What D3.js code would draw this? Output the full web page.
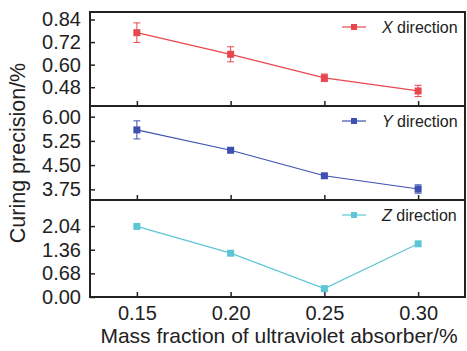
<!DOCTYPE html>
<html><head><meta charset="utf-8">
<script src="https://cdn.jsdelivr.net/npm/d3@7"></script>
<style>body{margin:0;background:#fff}svg{display:block}text{font-family:"Liberation Sans",Arial,sans-serif;fill:#222}</style>
</head><body><svg id="c" width="467" height="351"></svg>
<script>
const xs = [0.15, 0.20, 0.25, 0.30];
const xTicks = ["0.15", "0.20", "0.25", "0.30"];
const xVals = [0.77, 0.655, 0.53, 0.46];
const xErr = [0.052, 0.04, 0.02, 0.03];
const yVals = [5.59, 4.96, 4.17, 3.76];
const yErr = [0.28, 0.05, 0.05, 0.13];
const zVals = [2.03, 1.26, 0.24, 1.53];
const zErr = [0, 0, 0, 0];
const xYTicks = [0.48, 0.60, 0.72, 0.84];
const yYTicks = [3.75, 4.50, 5.25, 6.00];
const zYTicks = [0.00, 0.68, 1.36, 2.04];
const names = ["X", "Y", "Z"];
const colors = ["#e8474f", "#3f51b0", "#5cc6d6"];

const svg = d3.select("#c");
const L = 90, R = 465;
const panels = [
  {top: 12, bot: 106, dom: [0.38, 0.88], vals: xVals, err: xErr, ticks: xYTicks, fmt: d3.format(".2f")},
  {top: 106, bot: 200, dom: [3.42, 6.33], vals: yVals, err: yErr, ticks: yYTicks, fmt: d3.format(".2f")},
  {top: 200, bot: 297, dom: [0, 2.79], vals: zVals, err: zErr, ticks: zYTicks, fmt: d3.format(".2f")}
];
const x = d3.scaleLinear().domain([0.125, 0.325]).range([L, R]);

panels.forEach((p, i) => {
  const y = d3.scaleLinear().domain(p.dom).range([p.bot, p.top]);
  const g = svg.append("g");
  const ya = g.append("g").attr("transform", `translate(${L},0)`)
    .call(d3.axisLeft(y).tickValues(p.ticks).tickFormat(p.fmt).tickSizeInner(-5).tickSizeOuter(0).tickPadding(9));
  ya.select(".domain").remove();
  ya.selectAll("line").attr("stroke", "#222").attr("stroke-width", 1.5);
  ya.selectAll("text").style("font-size", "20px").attr("fill", "#222");
  const xa = g.append("g").attr("transform", `translate(0,${p.bot})`)
    .call(d3.axisBottom(x).tickValues(xs).tickFormat((d, k) => i === 2 ? xTicks[k] : "").tickSizeInner(-5).tickSizeOuter(0).tickPadding(9));
  xa.select(".domain").remove();
  xa.selectAll("line").attr("stroke", "#222").attr("stroke-width", 1.5);
  xa.selectAll("text").style("font-size", "20px").attr("fill", "#222");
  g.append("rect").attr("x", L).attr("y", p.top).attr("width", R - L).attr("height", p.bot - p.top)
    .attr("fill", "none").attr("stroke", "#222").attr("stroke-width", 2);
  const c = colors[i];
  const data = xs.map((xv, k) => ({x: xv, y: p.vals[k], e: p.err[k]}));
  g.append("path").datum(data).attr("fill", "none").attr("stroke", c).attr("stroke-width", 1.2)
    .attr("d", d3.line().x(d => x(d.x)).y(d => y(d.y)));
  data.filter(d => d.e > 0).forEach(d => {
    const cx = x(d.x), y1 = y(d.y + d.e), y2 = y(d.y - d.e);
    g.append("line").attr("x1", cx).attr("x2", cx).attr("y1", y1).attr("y2", y2).attr("stroke", c).attr("stroke-width", 1);
    [y1, y2].forEach(yy => g.append("line").attr("x1", cx - 3.5).attr("x2", cx + 3.5).attr("y1", yy).attr("y2", yy).attr("stroke", c).attr("stroke-width", 1));
  });
  g.selectAll("rect.m").data(data).enter().append("rect").attr("class", "m")
    .attr("x", d => x(d.x) - 3.5).attr("y", d => y(d.y) - 3.5).attr("width", 7).attr("height", 7).attr("fill", c);
  const ly = p.top + 15;
  g.append("line").attr("x1", 342).attr("x2", 366).attr("y1", ly).attr("y2", ly).attr("stroke", c).attr("stroke-width", 1.2);
  g.append("rect").attr("x", 351).attr("y", ly - 3).attr("width", 6).attr("height", 6).attr("fill", c);
  const t = g.append("text").attr("x", 382).attr("y", ly + 6).style("font-size", "16px");
  t.append("tspan").style("font-style", "italic").text(names[i]);
  t.append("tspan").text(" direction");
});

svg.append("text").attr("transform", "translate(25,153) rotate(-90)").attr("text-anchor", "middle")
  .style("font-size", "21.5px").text("Curing precision/%");
svg.append("text").attr("x", 279).attr("y", 343).attr("text-anchor", "middle")
  .style("font-size", "21px").text("Mass fraction of ultraviolet absorber/%");
</script></body></html>
